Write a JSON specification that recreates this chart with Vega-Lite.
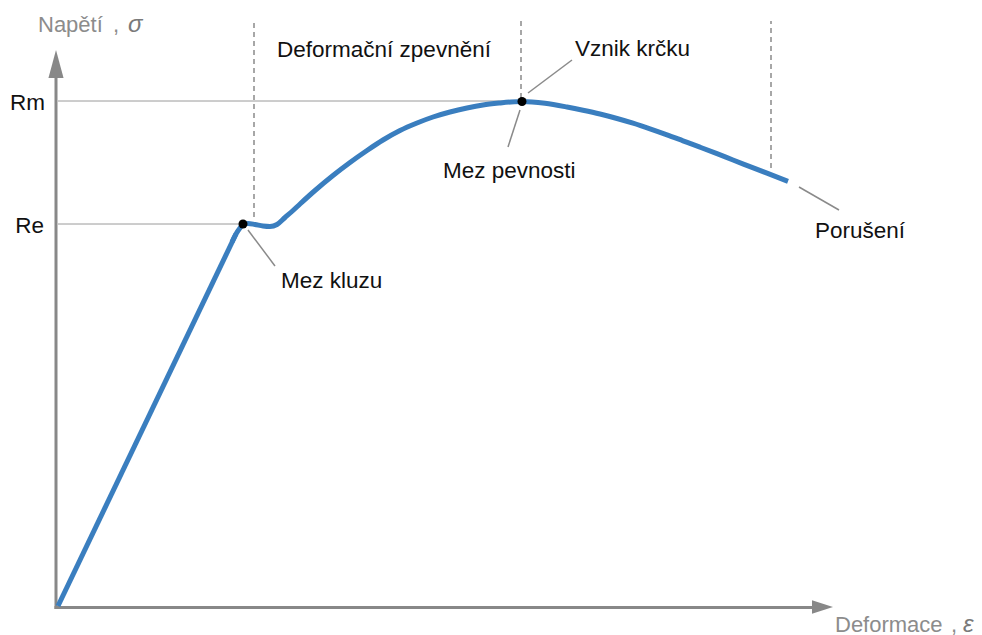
{
  "$schema": "https://vega.github.io/schema/vega-lite/v6.json",
  "width": 982,
  "height": 635,
  "autosize": {"type": "none"},
  "padding": 0,
  "background": "white",
  "view": {"stroke": null},
  "config": {"font": "Liberation Sans"},
  "datasets": {
    "elastic": [
      {"x": 0, "y": 1}, {"x": 178, "y": 373}
    ],
    "plastic": [
      {"x": 174, "y": 365}, {"x": 178, "y": 373}, {"x": 182, "y": 379}, {"x": 185, "y": 382.5},
      {"x": 190, "y": 383.5}, {"x": 197, "y": 382.5}, {"x": 205, "y": 381}, {"x": 212, "y": 380.5},
      {"x": 219, "y": 382.5}, {"x": 227, "y": 389.5}, {"x": 235, "y": 396.5}, {"x": 242, "y": 403},
      {"x": 257, "y": 416.5}, {"x": 275, "y": 431.5}, {"x": 292, "y": 444.5}, {"x": 309, "y": 456.5},
      {"x": 325, "y": 467}, {"x": 342, "y": 476.5}, {"x": 359, "y": 484}, {"x": 375, "y": 490},
      {"x": 392, "y": 495}, {"x": 409, "y": 499}, {"x": 425, "y": 502}, {"x": 442, "y": 504},
      {"x": 453, "y": 505}, {"x": 464, "y": 505.5}, {"x": 487, "y": 503.7}, {"x": 509, "y": 500},
      {"x": 525, "y": 496.8}, {"x": 542, "y": 493}, {"x": 559, "y": 488.5}, {"x": 575, "y": 483.8},
      {"x": 592, "y": 478.2}, {"x": 609, "y": 472.2}, {"x": 625, "y": 466.2}, {"x": 642, "y": 459.8},
      {"x": 659, "y": 453.3}, {"x": 675, "y": 447}, {"x": 692, "y": 440.4}, {"x": 709, "y": 433.8},
      {"x": 730, "y": 425.7}
    ],
    "axes": [
      {"x": -2, "x2": -2, "y": -2, "y2": 535},
      {"x": -3.5, "x2": 760, "y": -0.5, "y2": -0.5}
    ],
    "refs": [
      {"x": 0, "x2": 464, "y": 506, "y2": 506},
      {"x": 0, "x2": 185, "y": 383, "y2": 383}
    ],
    "dashes": [
      {"x": 196, "x2": 196, "y": 390, "y2": 586},
      {"x": 463, "x2": 463, "y": 509, "y2": 586},
      {"x": 713, "x2": 713, "y": 439, "y2": 586}
    ],
    "leaders": [
      {"x": 190, "x2": 217, "y": 377, "y2": 341},
      {"x": 462, "x2": 450, "y": 497, "y2": 460},
      {"x": 470, "x2": 514, "y": 514, "y2": 547},
      {"x": 741, "x2": 781, "y": 420, "y2": 397}
    ],
    "points": [
      {"x": 185, "y": 383, "name": "Mez kluzu"},
      {"x": 464, "y": 505.5, "name": "Mez pevnosti"}
    ],
    "yArrow": [{"x": -2, "y": 543}],
    "xArrow": [{"x": 764.5, "y": 0}],
    "labelsLeft": [
      {"x": 517, "y": 551, "label": "Vznik krčku"},
      {"x": 385, "y": 429, "label": "Mez pevnosti"},
      {"x": 223, "y": 319, "label": "Mez kluzu"},
      {"x": 757, "y": 369, "label": "Porušení"}
    ],
    "labelsCenter": [
      {"x": 326, "y": 550, "label": "Deformační zpevnění"}
    ],
    "labelsRight": [
      {"x": -14, "y": 374, "label": "Re"},
      {"x": -13, "y": 497, "label": "Rm"}
    ],
    "titles": [
      {"x": -20, "y": 575, "label": "Napětí"},
      {"x": 55, "y": 575, "label": ","},
      {"x": 777, "y": -25, "label": "Deformace"},
      {"x": 893, "y": -25, "label": ","}
    ],
    "symbols": [
      {"x": 70, "y": 575, "label": "σ"},
      {"x": 905, "y": -25, "label": "ε"}
    ]
  },
  "layer": [
    {
      "data": {"name": "refs"},
      "mark": {"type": "rule", "color": "#9a9a9a", "strokeWidth": 1},
      "encoding": {
        "x": {"field": "x", "type": "quantitative", "scale": {"domain": [-58, 924], "nice": false, "zero": false}, "axis": null},
        "x2": {"field": "x2"},
        "y": {"field": "y", "type": "quantitative", "scale": {"domain": [-28, 607], "nice": false, "zero": false}, "axis": null},
        "y2": {"field": "y2"}
      }
    },
    {
      "data": {"name": "dashes"},
      "mark": {"type": "rule", "color": "#8a8a8a", "strokeWidth": 1.5, "strokeDash": [5, 4]},
      "encoding": {
        "x": {"field": "x", "type": "quantitative", "scale": {"domain": [-58, 924], "nice": false, "zero": false}, "axis": null},
        "x2": {"field": "x2"},
        "y": {"field": "y", "type": "quantitative", "scale": {"domain": [-28, 607], "nice": false, "zero": false}, "axis": null},
        "y2": {"field": "y2"}
      }
    },
    {
      "data": {"name": "leaders"},
      "mark": {"type": "rule", "color": "#8a8a8a", "strokeWidth": 1.5},
      "encoding": {
        "x": {"field": "x", "type": "quantitative", "scale": {"domain": [-58, 924], "nice": false, "zero": false}, "axis": null},
        "x2": {"field": "x2"},
        "y": {"field": "y", "type": "quantitative", "scale": {"domain": [-28, 607], "nice": false, "zero": false}, "axis": null},
        "y2": {"field": "y2"}
      }
    },
    {
      "data": {"name": "axes"},
      "mark": {"type": "rule", "color": "#888888", "strokeWidth": 3},
      "encoding": {
        "x": {"field": "x", "type": "quantitative", "scale": {"domain": [-58, 924], "nice": false, "zero": false}, "axis": null},
        "x2": {"field": "x2"},
        "y": {"field": "y", "type": "quantitative", "scale": {"domain": [-28, 607], "nice": false, "zero": false}, "axis": null},
        "y2": {"field": "y2"}
      }
    },
    {
      "data": {"name": "yArrow"},
      "mark": {"type": "point", "shape": "M0,-1L0.54,1L-0.54,1Z", "filled": true, "color": "#888888", "opacity": 1, "size": 784},
      "encoding": {
        "x": {"field": "x", "type": "quantitative", "scale": {"domain": [-58, 924], "nice": false, "zero": false}, "axis": null},
        "y": {"field": "y", "type": "quantitative", "scale": {"domain": [-28, 607], "nice": false, "zero": false}, "axis": null}
      }
    },
    {
      "data": {"name": "xArrow"},
      "mark": {"type": "point", "shape": "M1,0L-1,-0.65L-1,0.65Z", "filled": true, "color": "#888888", "opacity": 1, "size": 441},
      "encoding": {
        "x": {"field": "x", "type": "quantitative", "scale": {"domain": [-58, 924], "nice": false, "zero": false}, "axis": null},
        "y": {"field": "y", "type": "quantitative", "scale": {"domain": [-28, 607], "nice": false, "zero": false}, "axis": null}
      }
    },
    {
      "data": {"name": "elastic"},
      "mark": {"type": "line", "color": "#3a7ebf", "strokeWidth": 5, "interpolate": "linear", "strokeCap": "butt"},
      "encoding": {
        "x": {"field": "x", "type": "quantitative", "scale": {"domain": [-58, 924], "nice": false, "zero": false}, "axis": null},
        "y": {"field": "y", "type": "quantitative", "scale": {"domain": [-28, 607], "nice": false, "zero": false}, "axis": null}
      }
    },
    {
      "data": {"name": "plastic"},
      "mark": {"type": "line", "color": "#3a7ebf", "strokeWidth": 5, "interpolate": "monotone", "strokeCap": "butt", "strokeJoin": "round"},
      "encoding": {
        "x": {"field": "x", "type": "quantitative", "scale": {"domain": [-58, 924], "nice": false, "zero": false}, "axis": null},
        "y": {"field": "y", "type": "quantitative", "scale": {"domain": [-28, 607], "nice": false, "zero": false}, "axis": null}
      }
    },
    {
      "data": {"name": "points"},
      "mark": {"type": "point", "shape": "circle", "filled": true, "color": "black", "opacity": 1, "size": 81},
      "encoding": {
        "x": {"field": "x", "type": "quantitative", "scale": {"domain": [-58, 924], "nice": false, "zero": false}, "axis": null},
        "y": {"field": "y", "type": "quantitative", "scale": {"domain": [-28, 607], "nice": false, "zero": false}, "axis": null}
      }
    },
    {
      "data": {"name": "labelsLeft"},
      "mark": {"type": "text", "align": "left", "baseline": "alphabetic", "fontSize": 22.5, "color": "#111111", "font": "Liberation Sans"},
      "encoding": {
        "x": {"field": "x", "type": "quantitative", "scale": {"domain": [-58, 924], "nice": false, "zero": false}, "axis": null},
        "y": {"field": "y", "type": "quantitative", "scale": {"domain": [-28, 607], "nice": false, "zero": false}, "axis": null},
        "text": {"field": "label"}
      }
    },
    {
      "data": {"name": "labelsCenter"},
      "mark": {"type": "text", "align": "center", "baseline": "alphabetic", "fontSize": 22.5, "color": "#111111", "font": "Liberation Sans"},
      "encoding": {
        "x": {"field": "x", "type": "quantitative", "scale": {"domain": [-58, 924], "nice": false, "zero": false}, "axis": null},
        "y": {"field": "y", "type": "quantitative", "scale": {"domain": [-28, 607], "nice": false, "zero": false}, "axis": null},
        "text": {"field": "label"}
      }
    },
    {
      "data": {"name": "labelsRight"},
      "mark": {"type": "text", "align": "right", "baseline": "alphabetic", "fontSize": 22.5, "color": "#111111", "font": "Liberation Sans"},
      "encoding": {
        "x": {"field": "x", "type": "quantitative", "scale": {"domain": [-58, 924], "nice": false, "zero": false}, "axis": null},
        "y": {"field": "y", "type": "quantitative", "scale": {"domain": [-28, 607], "nice": false, "zero": false}, "axis": null},
        "text": {"field": "label"}
      }
    },
    {
      "data": {"name": "titles"},
      "mark": {"type": "text", "align": "left", "baseline": "alphabetic", "fontSize": 22, "color": "#8c8c8c", "font": "Liberation Sans"},
      "encoding": {
        "x": {"field": "x", "type": "quantitative", "scale": {"domain": [-58, 924], "nice": false, "zero": false}, "axis": null},
        "y": {"field": "y", "type": "quantitative", "scale": {"domain": [-28, 607], "nice": false, "zero": false}, "axis": null},
        "text": {"field": "label"}
      }
    },
    {
      "data": {"name": "symbols"},
      "mark": {"type": "text", "align": "left", "baseline": "alphabetic", "fontSize": 24, "fontStyle": "italic", "color": "#7a7a7a", "font": "Liberation Sans"},
      "encoding": {
        "x": {"field": "x", "type": "quantitative", "scale": {"domain": [-58, 924], "nice": false, "zero": false}, "axis": null},
        "y": {"field": "y", "type": "quantitative", "scale": {"domain": [-28, 607], "nice": false, "zero": false}, "axis": null},
        "text": {"field": "label"}
      }
    }
  ]
}
